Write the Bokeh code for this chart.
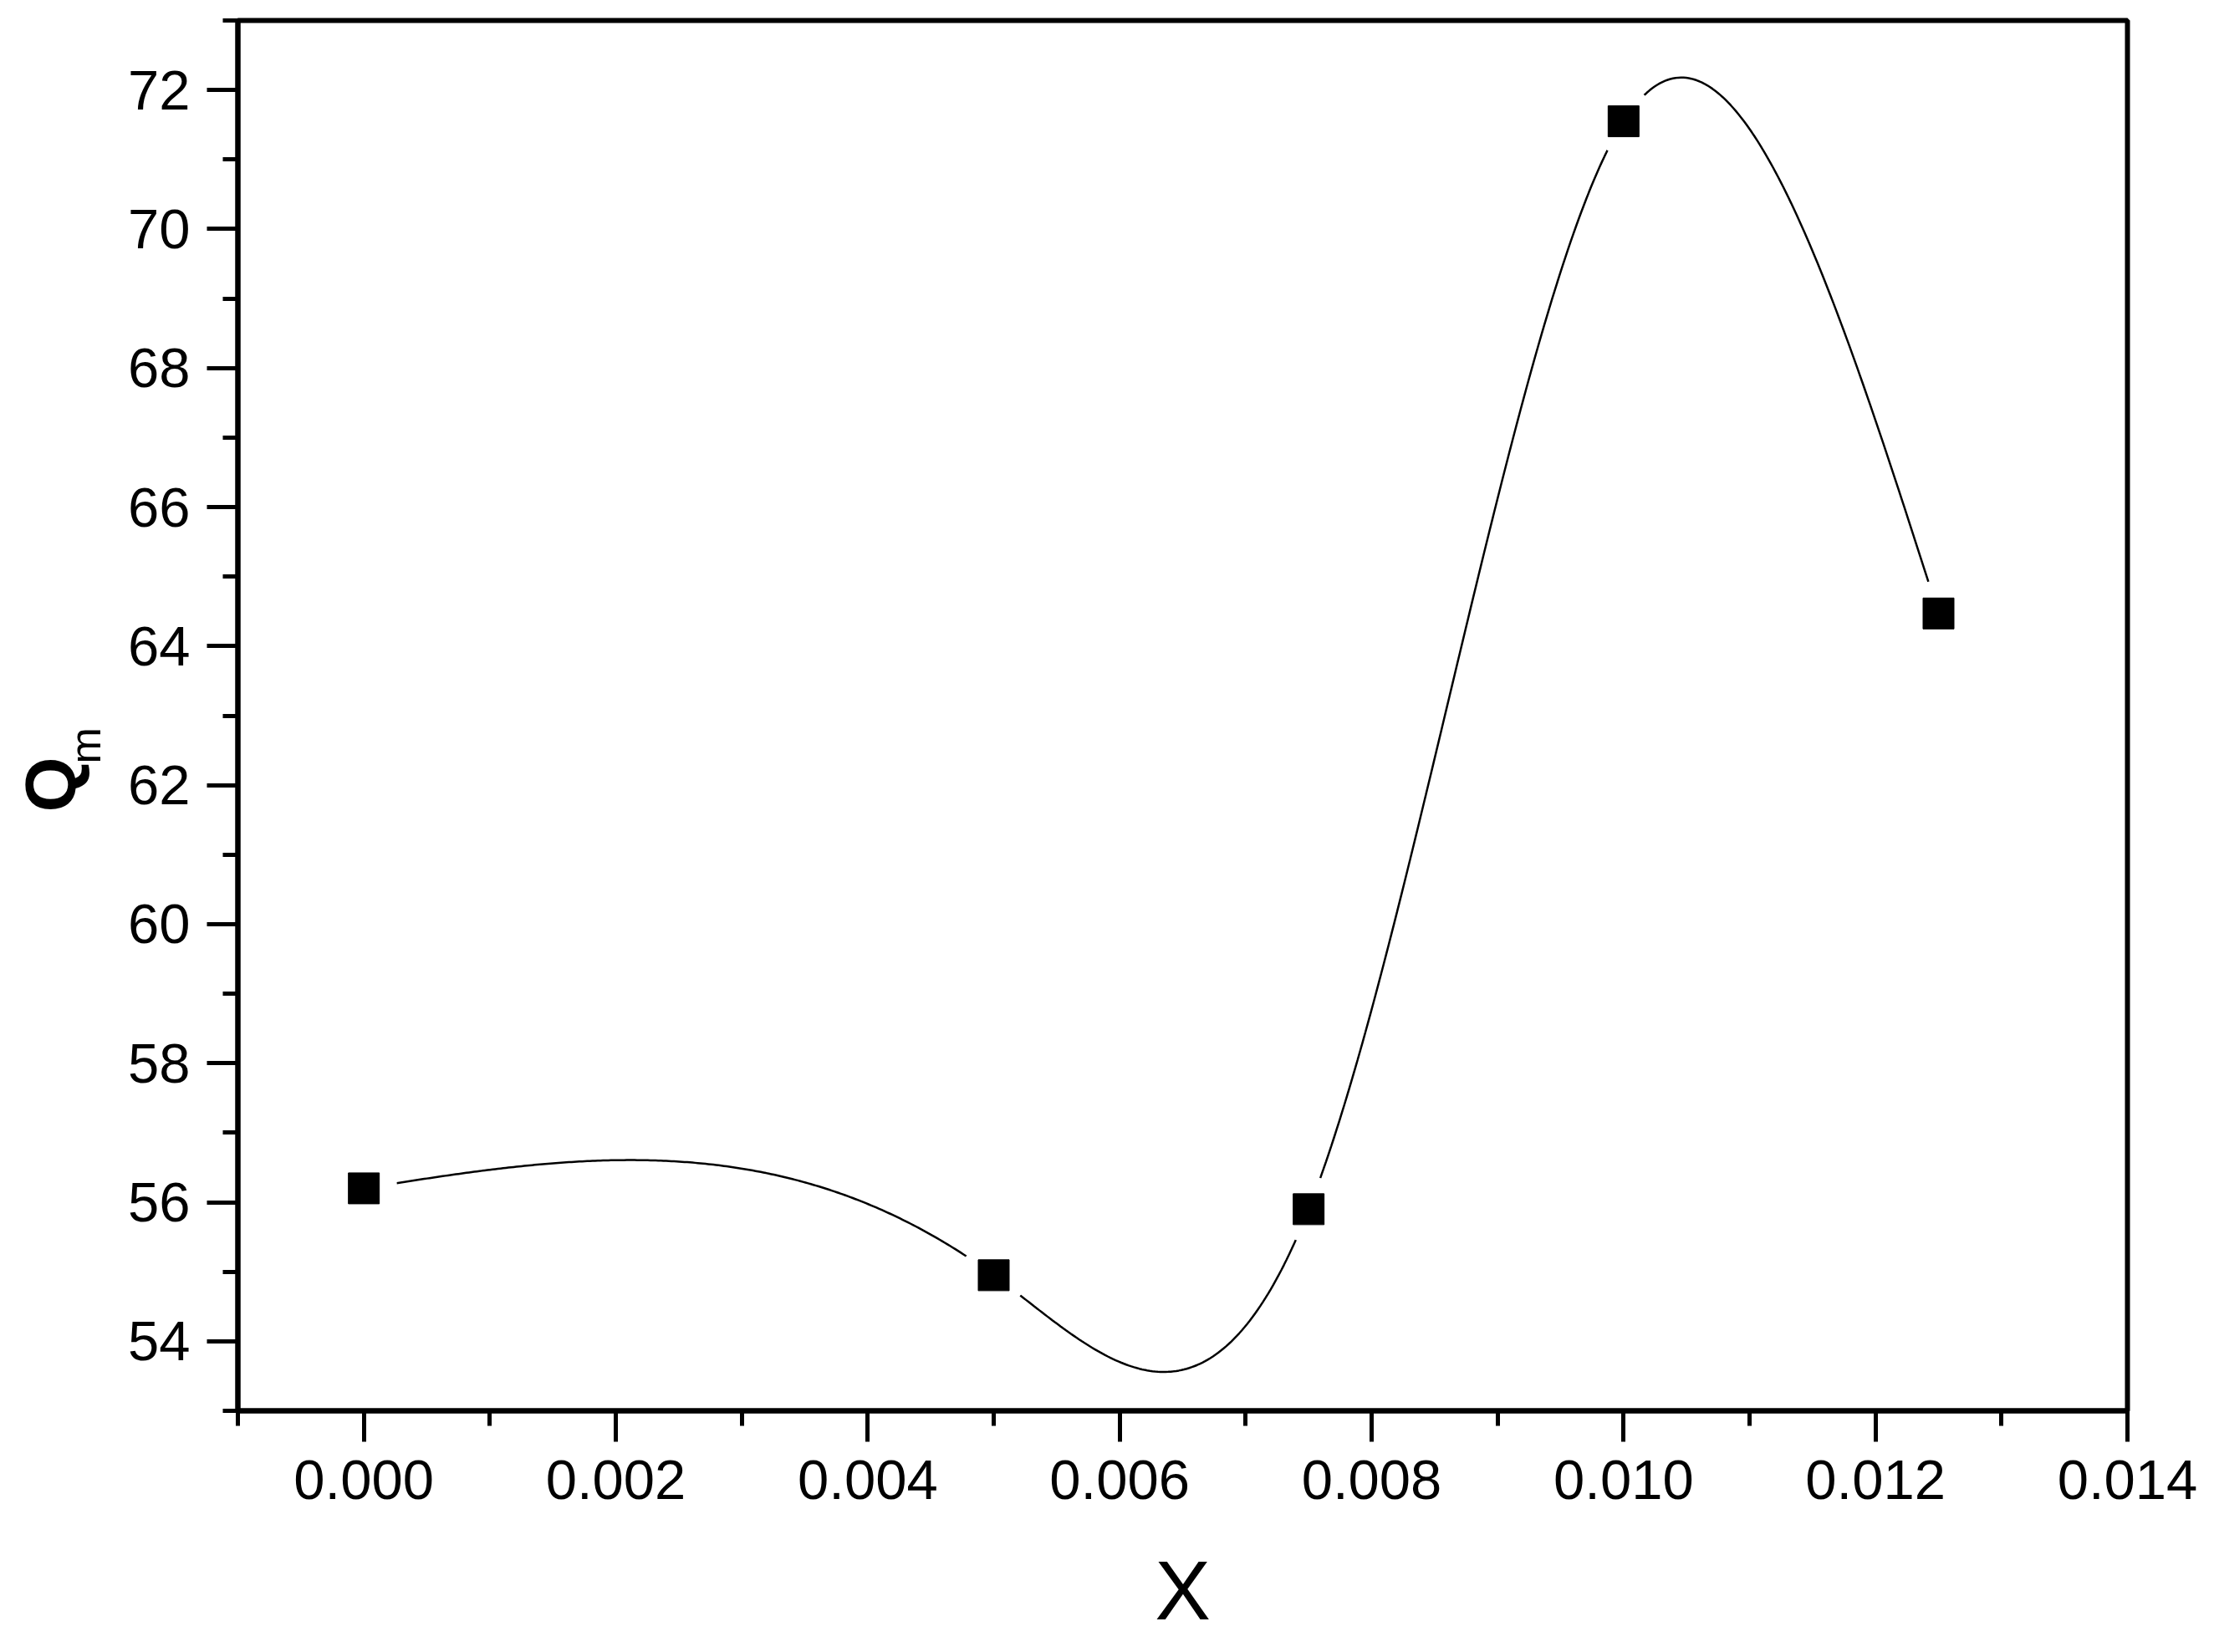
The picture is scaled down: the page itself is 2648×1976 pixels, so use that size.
import numpy as np
from bokeh.plotting import figure
from bokeh.models import FixedTicker, Title, Range1d, ColumnDataSource
from bokeh.embed import file_html
from bokeh.resources import INLINE

# ---- data ----
x_vals = [0.0, 0.005, 0.0075, 0.010, 0.0125]
qm_vals = [56.2, 54.95, 55.9, 71.55, 64.47]

x_major = [0.000, 0.002, 0.004, 0.006, 0.008, 0.010, 0.012, 0.014]
x_labels = ["0.000", "0.002", "0.004", "0.006", "0.008", "0.010", "0.012", "0.014"]
x_minor = [-0.001, 0.001, 0.003, 0.005, 0.007, 0.009, 0.011, 0.013]
y_major = [54, 56, 58, 60, 62, 64, 66, 68, 70, 72]
y_labels = ["54", "56", "58", "60", "62", "64", "66", "68", "70", "72"]
y_minor = [53, 55, 57, 59, 61, 63, 65, 67, 69, 71, 73]


def natural_spline(xs, ys, n=600):
    xs = np.asarray(xs, float)
    ys = np.asarray(ys, float)
    k = len(xs)
    h = np.diff(xs)
    A = np.zeros((k, k))
    b = np.zeros(k)
    A[0, 0] = 1.0
    A[-1, -1] = 1.0
    for i in range(1, k - 1):
        A[i, i - 1] = h[i - 1]
        A[i, i] = 2 * (h[i - 1] + h[i])
        A[i, i + 1] = h[i]
        b[i] = 6 * ((ys[i + 1] - ys[i]) / h[i] - (ys[i] - ys[i - 1]) / h[i - 1])
    M = np.linalg.solve(A, b)
    xx = np.linspace(xs[0], xs[-1], n)
    idx = np.clip(np.searchsorted(xs, xx) - 1, 0, k - 2)
    x0, x1 = xs[idx], xs[idx + 1]
    hh = x1 - x0
    a = (x1 - xx) / hh
    c = (xx - x0) / hh
    yy = (a * ys[idx] + c * ys[idx + 1]
          + ((a ** 3 - a) * M[idx] + (c ** 3 - c) * M[idx + 1]) * hh ** 2 / 6.0)
    return xx, yy


sx, sy = natural_spline(x_vals, qm_vals)

W, H = 2632, 1960
p = figure(width=W, height=H,
           x_range=Range1d(-0.001, 0.014), y_range=Range1d(53, 73),
           output_backend="svg", toolbar_location=None,
           min_border_left=284, min_border_right=88,
           min_border_top=24, min_border_bottom=266)
p.grid.visible = False
p.background_fill_color = "white"
p.border_fill_color = "white"
p.outline_line_color = "black"
p.outline_line_width = 6

p.line(sx, sy, line_color="black", line_width=2.5)
src = ColumnDataSource(dict(x=x_vals, y=qm_vals))
p.scatter("x", "y", source=src, marker="circle", size=80,
          fill_color="white", line_color=None)
p.scatter("x", "y", source=src, marker="square", size=37,
          fill_color="black", line_color="black")

FONT = "Liberation Sans"

xa = p.xaxis[0]
xa.ticker = FixedTicker(ticks=x_major, minor_ticks=x_minor)
xa.major_label_overrides = {t: l for t, l in zip(x_major, x_labels)}
ya = p.yaxis[0]
ya.ticker = FixedTicker(ticks=y_major, minor_ticks=y_minor)
ya.major_label_overrides = {t: l for t, l in zip(y_major, y_labels)}

for ax in (xa, ya):
    ax.axis_line_width = 6
    ax.axis_line_color = "black"
    ax.major_tick_line_width = 5
    ax.minor_tick_line_width = 5
    ax.major_tick_line_color = "black"
    ax.minor_tick_line_color = "black"
    ax.major_tick_in = 0
    ax.major_tick_out = 37
    ax.minor_tick_in = 0
    ax.minor_tick_out = 18
    ax.major_label_text_font = FONT
    ax.major_label_text_font_size = "67px"
    ax.major_label_text_color = "black"

xa.major_label_standoff = 22
ya.major_label_standoff = 20

xa.axis_label = "X"
xa.axis_label_text_font = FONT
xa.axis_label_text_font_size = "100px"
xa.axis_label_text_font_style = "normal"
xa.axis_label_text_color = "black"
xa.axis_label_standoff = 50

m_title = Title(text="m", align="left", offset=774, standoff=38,
                vertical_align="bottom",
                text_font=FONT, text_font_size="52px",
                text_font_style="normal", text_color="black")
q_title = Title(text="Q", align="left", offset=716, standoff=-112,
                vertical_align="bottom",
                text_font=FONT, text_font_size="85px",
                text_font_style="bold", text_color="black")
p.add_layout(m_title, "left")
p.add_layout(q_title, "left")

open("out.html", "w").write(file_html(p, INLINE))
